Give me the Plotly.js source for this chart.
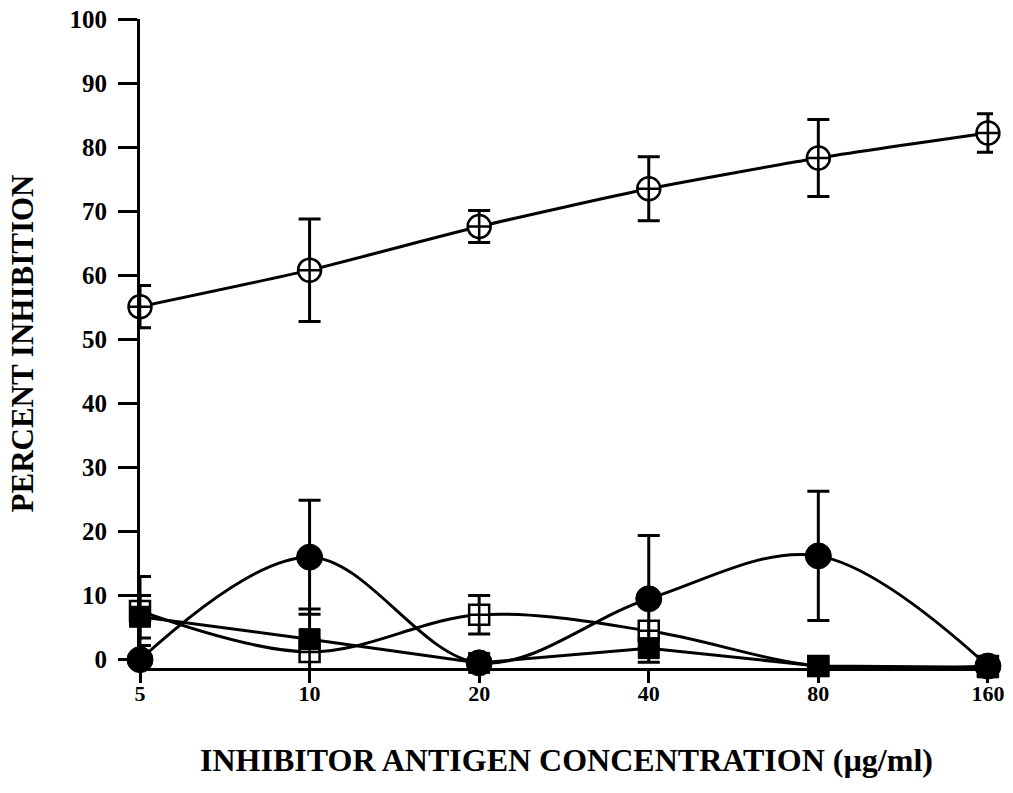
<!DOCTYPE html>
<html>
<head>
<meta charset="utf-8">
<script src="https://cdn.plot.ly/plotly-3.0.1.min.js"></script>
<style>html,body{margin:0;padding:0;background:#fff;}#chart{width:1013px;height:793px;}</style>
</head>
<body>
<div id="chart"></div>
<script>
// Inhibitor antigen concentrations (µg/ml)
const concentrations = ['5', '10', '20', '40', '80', '160'];

// Open circles
const openCircle = [55.1, 60.8, 67.6, 73.5, 78.3, 82.2];
const openCircleErr = [3.3, 8.0, 2.5, 5.0, 6.0, 3.0];

// Filled circles
const filledCircle = [0.0, 16.0, -0.5, 9.5, 16.2, -1.0];
const filledCircleErr = [0, 8.9, 0, 9.9, 10.1, 0];

// Open squares
const openSquare = [7.6, 1.2, 7.0, 4.5, -1.0, -1.0];
const openSquareErr = [5.4, 6.7, 3.0, 0, 0, 0];

// Filled squares
const filledSquare = [6.7, 3.2, -0.5, 1.8, -1.0, -1.2];
const filledSquareErr = [3.3, 0, 0, 0, 0, 0];

const yTicks = [0, 10, 20, 30, 40, 50, 60, 70, 80, 90, 100];

const FONT = 'Liberation Serif, Times New Roman, serif';

function errY(arr) {
  return {type: 'data', array: arr, visible: true, color: '#000', thickness: 3, width: 11};
}

const traces = [
  {
    x: concentrations, y: openSquare, type: 'scatter', mode: 'lines+markers',
    line: {color: '#000', width: 3, shape: 'spline', smoothing: 1},
    marker: {symbol: 'square-cross', size: 20, color: '#fff', line: {color: '#000', width: 2.5}},
    error_y: errY(openSquareErr), cliponaxis: false
  },
  {
    x: concentrations, y: filledSquare, type: 'scatter', mode: 'lines+markers',
    line: {color: '#000', width: 3, shape: 'linear'},
    marker: {symbol: 'square', size: 21, color: '#000', line: {color: '#000', width: 1}},
    error_y: errY(filledSquareErr), cliponaxis: false
  },
  {
    x: concentrations, y: filledCircle, type: 'scatter', mode: 'lines+markers',
    line: {color: '#000', width: 3, shape: 'spline', smoothing: 1},
    marker: {symbol: 'circle', size: 26, color: '#000', line: {color: '#000', width: 1}},
    error_y: errY(filledCircleErr), cliponaxis: false
  },
  {
    x: concentrations, y: openCircle, type: 'scatter', mode: 'lines+markers',
    line: {color: '#000', width: 3, shape: 'spline', smoothing: 0.6},
    marker: {symbol: 'circle-cross', size: 23, color: '#fff', line: {color: '#000', width: 2.5}},
    error_y: errY(openCircleErr), cliponaxis: false
  }
];

const layout = {
  width: 1013, height: 793,
  margin: {l: 140, r: 20, t: 19, b: 125},
  paper_bgcolor: '#fff', plot_bgcolor: '#fff',
  showlegend: false,
  font: {family: FONT, color: '#000'},
  xaxis: {
    type: 'category', categoryorder: 'array', categoryarray: concentrations,
    range: [0, 5.03],
    showline: true, linecolor: '#000', linewidth: 3,
    showgrid: false, zeroline: false,
    ticks: 'outside', ticklen: 12, tickwidth: 3, tickcolor: '#000',
    ticklabelstandoff: -8,
    tickfont: {family: FONT, size: 22, color: '#000', weight: 'bold'},
    title: {text: '<b>INHIBITOR ANTIGEN CONCENTRATION (µg/ml)</b>', font: {family: FONT, size: 32, color: '#000'}, standoff: 44}
  },
  yaxis: {
    range: [-1.3, 100],
    tickvals: yTicks,
    showline: true, linecolor: '#000', linewidth: 3,
    showgrid: false, zeroline: false,
    ticks: 'outside', ticklen: 19, tickwidth: 3, tickcolor: '#000',
    ticklabelstandoff: 6,
    tickfont: {family: FONT, size: 25, color: '#000', weight: 'bold'},
    title: {text: '<b>PERCENT INHIBITION</b>', font: {family: FONT, size: 31, color: '#000'}, standoff: 27}
  }
};

Plotly.newPlot('chart', traces, layout, {displayModeBar: false, staticPlot: true});
</script>
</body>
</html>
